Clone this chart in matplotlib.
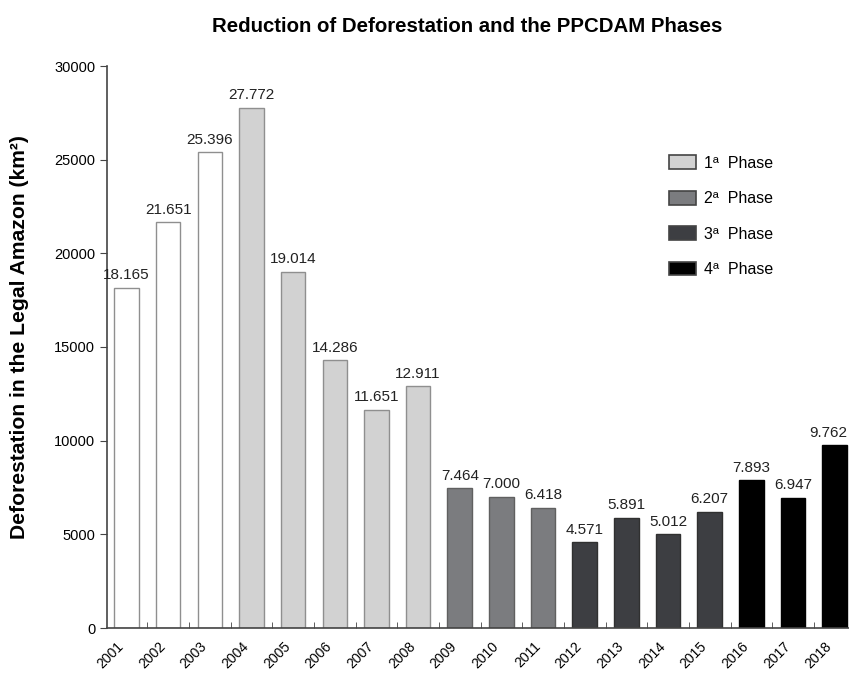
import matplotlib
matplotlib.use("Agg")
import matplotlib.pyplot as plt
from matplotlib.patches import Patch
import numpy as np

plt.rcParams['font.family'] = ['Liberation Sans', 'DejaVu Sans']

years = ['2001', '2002', '2003', '2004', '2005', '2006', '2007', '2008', '2009',
         '2010', '2011', '2012', '2013', '2014', '2015', '2016', '2017', '2018']
values = [18165, 21651, 25396, 27772, 19014, 14286, 11651, 12911, 7464,
          7000, 6418, 4571, 5891, 5012, 6207, 7893, 6947, 9762]
labels = ['18.165', '21.651', '25.396', '27.772', '19.014', '14.286', '11.651', '12.911', '7.464',
          '7.000', '6.418', '4.571', '5.891', '5.012', '6.207', '7.893', '6.947', '9.762']
groups = ['pre'] * 3 + ['p1'] * 5 + ['p2'] * 3 + ['p3'] * 4 + ['p4'] * 3
legend_labels = ['1ª  Phase', '2ª  Phase', '3ª  Phase', '4ª  Phase']

colors = {'pre': '#ffffff', 'p1': '#d2d2d2', 'p2': '#7b7c7f', 'p3': '#3d3e42', 'p4': '#000000'}
edges = {'pre': '#8f8f8f', 'p1': '#8f8f8f', 'p2': '#606060', 'p3': '#303030', 'p4': '#000000'}

fig = plt.figure(figsize=(8.49, 6.73), dpi=100)
ax = fig.add_axes([107/849, 1-628/673, (849-107)/849, (628-66)/673])

x = np.arange(len(years))
n = len(years)
for i, (v, g) in enumerate(zip(values, groups)):
    ax.bar(x[i], v, width=0.59, color=colors[g], edgecolor=edges[g], linewidth=1.0)
    dx = -4.5 if i == n - 1 else 0
    ax.annotate(labels[i], (x[i], v), xytext=(dx, 4), textcoords='offset points',
                ha='center', va='bottom', fontsize=11, color='#222222',
                annotation_clip=False)

ax.set_xlim(-0.468, 17.343)
ax.set_ylim(0, 30000)
ax.set_yticks(np.arange(0, 30001, 5000))
ax.set_xticks(x)
ax.set_xticklabels(years, rotation=45, fontsize=10, ha='right', va='top')
ax.set_xticks(np.arange(0.5, 17.5, 1), minor=True)
ax.tick_params(axis='x', which='major', length=0, pad=8)
ax.tick_params(axis='x', which='minor', length=4, direction='in', color='#444444')
ax.tick_params(axis='y', which='major', length=5, direction='out', labelsize=10.5, color='#444444')
for s in ['top', 'right']:
    ax.spines[s].set_visible(False)
for s in ['left', 'bottom']:
    ax.spines[s].set_color('#444444')
    ax.spines[s].set_linewidth(1.2)

fig.text(20/849, 1-337/673, 'Deforestation in the Legal Amazon (km²)', rotation=90,
         ha='center', va='center', fontsize=15.2, fontweight='bold')

handles = [Patch(facecolor=colors[k], edgecolor='#444444', linewidth=1.2) for k in ['p1', 'p2', 'p3', 'p4']]
fig.legend(handles, legend_labels, loc='upper left', bbox_to_anchor=(655/849, 1-141/673),
           frameon=False, fontsize=11.5, labelspacing=1.26, handlelength=1.69, handleheight=0.94,
           handletextpad=0.5)

fig.text(467/849, 1-26/673, 'Reduction of Deforestation and the PPCDAM Phases',
         ha='center', va='center', fontsize=14.7, fontweight='bold')

fig.savefig('out.png', dpi=100)
